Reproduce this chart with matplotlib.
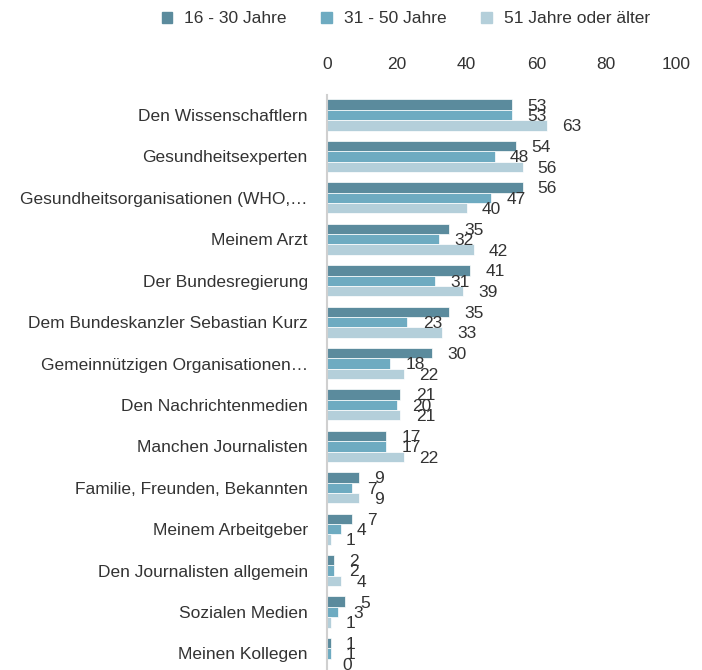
import numpy as np
import matplotlib.pyplot as plt
from matplotlib.patches import Patch

plt.rcParams['font.family'] = ['Liberation Sans', 'DejaVu Sans']

## Data ###########
categories = ["Den Wissenschaftlern", "Gesundheitsexperten",
              "Gesundheitsorganisationen (WHO,\u2026", "Meinem Arzt",
              "Der Bundesregierung", "Dem Bundeskanzler Sebastian Kurz",
              "Gemeinn\u00fctzigen Organisationen\u2026", "Den Nachrichtenmedien",
              "Manchen Journalisten", "Familie, Freunden, Bekannten",
              "Meinem Arbeitgeber", "Den Journalisten allgemein",
              "Sozialen Medien", "Meinen Kollegen"]
age_16_30 = [53, 54, 56, 35, 41, 35, 30, 21, 17, 9, 7, 2, 5, 1]
age_31_50 = [53, 48, 47, 32, 31, 23, 18, 20, 17, 7, 4, 2, 3, 1]
age_51 = [63, 56, 40, 42, 39, 33, 22, 21, 22, 9, 1, 4, 1, 0]
series_names = ["16 - 30 Jahre", "31 - 50 Jahre", "51 Jahre oder \u00e4lter"]
colors = ['#5b8b9d', '#6eabc1', '#b4cfda']

## Chart ###########
fig = plt.figure(figsize=(7.02, 6.70), dpi=100)
ax = fig.add_axes([0.466, 0.0, 0.497, 0.858])

y = np.arange(len(categories))
h = 0.25
for i, vals in enumerate([age_16_30, age_31_50, age_51]):
    pos = y + (i - 1) * h
    ax.barh(pos, vals, height=h, color=colors[i], edgecolor='white', linewidth=0.5)
    for p, v in zip(pos, vals):
        ax.annotate(str(v), (v, p), xytext=(11, -1), textcoords='offset points',
                    ha='left', va='center', fontsize=12.5, color='#333333')

ax.set_xlim(0, 100)
ax.set_ylim(13.4, -0.48)
ax.set_xticks([0, 20, 40, 60, 80, 100])
ax.set_yticks(y)
ax.set_yticklabels(categories)
ax.xaxis.tick_top()
ax.tick_params(axis='x', length=0, pad=17, labelsize=12.5, colors='#333333')
ax.tick_params(axis='y', length=0, pad=14, labelsize=12.5, colors='#333333')
for s in ['top', 'right', 'bottom']:
    ax.spines[s].set_visible(False)
ax.spines['left'].set_color('#d0d0d0')
ax.spines['left'].set_linewidth(1.5)

handles = [Patch(color=c, label=n) for c, n in zip(colors, series_names)]
fig.legend(handles=handles, loc='center', bbox_to_anchor=(0.578, 0.972), ncol=3,
           frameon=False, fontsize=12.5, handlelength=0.6, handleheight=0.6,
           columnspacing=2.0, handletextpad=0.7, labelcolor='#333333')

fig.savefig('out.png', dpi=100)
